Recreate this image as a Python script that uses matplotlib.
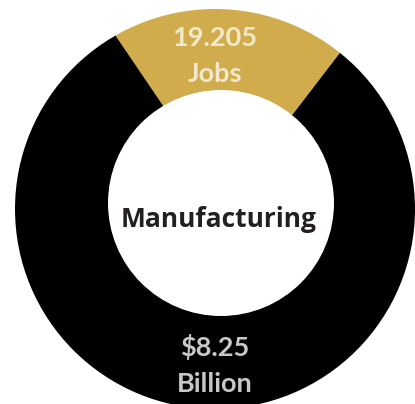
import matplotlib
matplotlib.use("Agg")
import matplotlib.pyplot as plt
from matplotlib.patches import Circle
from matplotlib.path import Path

# Sector shares of the ring (manufacturing slice vs. the rest)
segments = ["Manufacturing", "Other"]
shares = [19.9, 80.1]
colors = ["#D0AC4C", "#000000"]

# Text shown on the ring
jobs_value = "19.205"
jobs_unit = "Jobs"
output_value = "$8.25"
output_unit = "Billion"
center_title = "Manufacturing"

W, H = 415, 404
fig = plt.figure(figsize=(W / 100, H / 100), dpi=100)
ax = fig.add_axes([0, 0, 1, 1])

wedges, _ = ax.pie(shares, colors=colors, radius=216, center=(227, 204),
                   startangle=52.5, counterclock=True,
                   wedgeprops=dict(linewidth=0))

ax.set_xlim(0, W)
ax.set_ylim(0, H)
ax.set_aspect("auto")
ax.axis("off")

# outer edge of the ring
rim = Path.circle((215, 195), 200)
for w in wedges:
    w.set_clip_on(True)
    w.set_clip_path(rim, ax.transData)

# donut hole
ax.add_patch(Circle((221, 201), 113, facecolor="white", edgecolor="none", zorder=3))

lab = dict(family="Lato", weight="bold", fontsize=19.5, ha="center", va="baseline", zorder=4)
ax.text(215, 358, jobs_value, color="#F2E8CC", **lab)
ax.text(215, 322, jobs_unit, color="#F2E8CC", **lab)
ax.text(215, 48, output_value, color="#C8C8C8", **lab)
ax.text(215, 12, output_unit, color="#C8C8C8", **lab)

ax.text(219, 177, center_title, family="Open Sans", weight="bold", fontsize=19,
        color="#231F20", ha="center", va="baseline", zorder=4)

fig.savefig("out.png", dpi=100)
